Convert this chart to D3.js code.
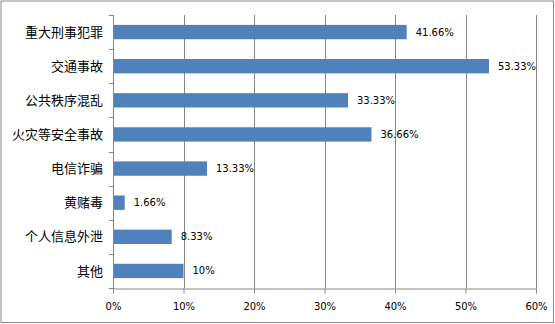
<!DOCTYPE html>
<html>
<head>
<meta charset="utf-8">
<script src="https://cdn.jsdelivr.net/npm/d3@7/dist/d3.min.js"></script>
<style>
  html, body { margin: 0; padding: 0; background: #fff; }
  svg { display: block; }
</style>
</head>
<body>
<svg id="chart" width="555" height="324"></svg>
<script>
// Share of respondents per concern (percent)
const categories = ["重大刑事犯罪", "交通事故", "公共秩序混乱", "火灾等安全事故", "电信诈骗", "黄赌毒", "个人信息外泄", "其他"];
const values = [41.66, 53.33, 33.33, 36.66, 13.33, 1.66, 8.33, 10];
const valueLabels = ["41.66%", "53.33%", "33.33%", "36.66%", "13.33%", "1.66%", "8.33%", "10%"];
const tickValues = [0, 10, 20, 30, 40, 50, 60];

const svg = d3.select("#chart");
const W = 555, H = 324;
const plot = { left: 113, right: 536, top: 15, bottom: 288 };

// outer frame
svg.append("rect")
  .attr("x", 1).attr("y", 1)
  .attr("width", W - 2.5).attr("height", H - 2.5)
  .attr("fill", "#fff").attr("stroke", "#888").attr("stroke-width", 1);

const x = d3.scaleLinear().domain([0, 60]).range([plot.left, plot.right]);
const y = d3.scaleBand().domain(categories).range([plot.top, plot.bottom]).paddingInner(0.58).paddingOuter(0.29);

// vertical gridlines
svg.append("g").selectAll("line")
  .data(tickValues.slice(1))
  .join("line")
  .attr("x1", d => Math.round(x(d)) + 0.5).attr("x2", d => Math.round(x(d)) + 0.5)
  .attr("y1", plot.top).attr("y2", plot.bottom)
  .attr("stroke", "#868686").attr("stroke-width", 1);

// bars
svg.append("g").selectAll("rect")
  .data(categories)
  .join("rect")
  .attr("x", x(0))
  .attr("y", d => y(d))
  .attr("width", (d, i) => x(values[i]) - x(0))
  .attr("height", y.bandwidth())
  .attr("fill", "#4F81BD");

// value labels
svg.append("g").selectAll("text")
  .data(categories)
  .join("text")
  .attr("x", (d, i) => x(values[i]) + 9)
  .attr("y", d => y(d) + y.bandwidth() / 2)
  .attr("dy", "0.35em")
  .attr("font-family", "'DejaVu Sans', Verdana, sans-serif")
  .attr("font-size", 10)
  .attr("fill", "#000")
  .text((d, i) => valueLabels[i]);

// bottom axis
const xAxis = d3.axisBottom(x)
  .tickValues(tickValues)
  .tickFormat(d => d + "%")
  .tickSize(5)
  .tickSizeOuter(0);
const gx = svg.append("g")
  .attr("transform", `translate(0,${plot.bottom + 0.5})`)
  .call(xAxis);
gx.select(".domain").attr("stroke", "#868686");
gx.selectAll(".tick line").attr("stroke", "#868686");
gx.selectAll(".tick text")
  .attr("y", 14)
  .attr("font-family", "'DejaVu Sans', Verdana, sans-serif")
  .attr("font-size", 10)
  .attr("fill", "#000");

// left axis: ticks between categories
const boundaries = d3.range(categories.length + 1).map(i => plot.top + i * (plot.bottom - plot.top) / categories.length);
svg.append("line")
  .attr("x1", plot.left + 0.5).attr("x2", plot.left + 0.5)
  .attr("y1", plot.top).attr("y2", plot.bottom + 5)
  .attr("stroke", "#868686");
svg.append("g").selectAll("line")
  .data(boundaries)
  .join("line")
  .attr("x1", plot.left - 4).attr("x2", plot.left)
  .attr("y1", d => Math.round(d) + 0.5).attr("y2", d => Math.round(d) + 0.5)
  .attr("stroke", "#868686");

// category labels
svg.append("g").selectAll("text")
  .data(categories)
  .join("text")
  .attr("x", plot.left - 10)
  .attr("y", d => y(d) + y.bandwidth() / 2)
  .attr("dy", "0.36em")
  .attr("text-anchor", "end")
  .attr("font-family", "'Noto Sans CJK SC', sans-serif")
  .attr("font-size", 13)
  .attr("fill", "#000")
  .text(d => d);
</script>
</body>
</html>
